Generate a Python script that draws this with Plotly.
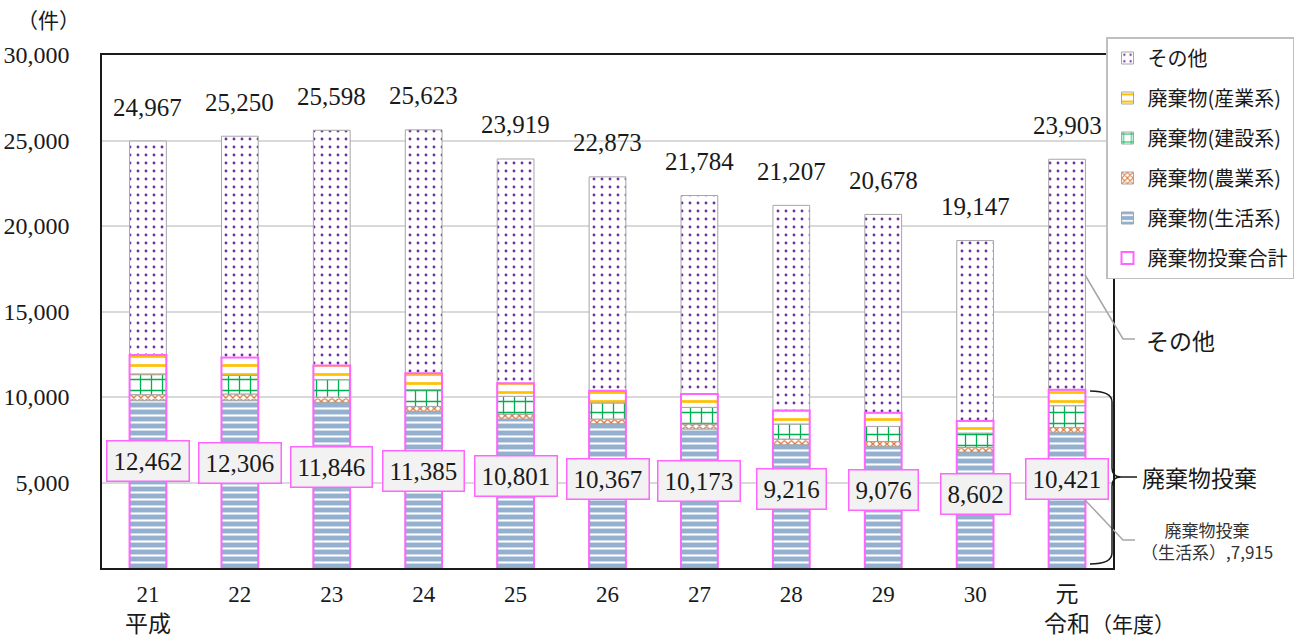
import numpy as np
import plotly.graph_objects as go

# ---------------- data ----------------
categories = ["21", "22", "23", "24", "25", "26", "27", "28", "29", "30", "元"]
era_labels = ["平成", "", "", "", "", "", "", "", "", "", "令和"]

household = [9786, 9786, 9690, 9160, 8710, 8440, 8130, 7210, 7110, 6780, 7915]      # 廃棄物(生活系)
agricultural = [350, 390, 310, 290, 296, 270, 290, 330, 290, 270, 305]              # 廃棄物(農業系)
construction = [1170, 1090, 1017, 980, 1034, 940, 975, 880, 880, 840, 1270]         # 廃棄物(建設系)
industrial = [1156, 1040, 829, 955, 761, 717, 778, 796, 796, 712, 931]              # 廃棄物(産業系)
other = [12505, 12944, 13752, 14238, 13118, 12506, 11611, 11991, 11602, 10545, 13482]  # その他
dumping_total = [12462, 12306, 11846, 11385, 10801, 10367, 10173, 9216, 9076, 8602, 10421]  # 廃棄物投棄合計
grand_total = [24967, 25250, 25598, 25623, 23919, 22873, 21784, 21207, 20678, 19147, 23903]

y_tickvals = [5000, 10000, 15000, 20000, 25000, 30000]
y_ticktext = ["5,000", "10,000", "15,000", "20,000", "25,000", "30,000"]

# ---------------- styling ----------------
W, H = 1298, 638
ML, MR, MT, MB = 102, 185, 55, 70
PW, PH = W - ML - MR, H - MT - MB

NUM_FONT = "Liberation Serif, Noto Sans CJK JP, serif"
JP_FONT = "Noto Sans CJK JP, sans-serif"
TXT = "#1a1a1a"
PINK = "#FF66FF"
SEG_LINE = dict(color="#A6A6A6", width=1)
BAR_W = 0.4
xpos = list(range(len(categories)))


def px_x(p):
    return (p - ML) / PW


def px_y(p):
    return (H - MB - p) / PH


series = [
    ("廃棄物(生活系)", household, dict(shape="-", fgcolor="#FFFFFF", bgcolor="#93B0CF", size=7, solidity=0.3), 5),
    ("廃棄物(農業系)", agricultural, dict(shape="x", fgcolor="#D9773A", bgcolor="#FFFFFF", size=5, solidity=0.45), 4),
    ("廃棄物(建設系)", construction, dict(shape="+", fgcolor="#00B050", bgcolor="#FFFFFF", size=11, solidity=0.22), 3),
    ("廃棄物(産業系)", industrial, dict(shape="-", fgcolor="#FFC000", bgcolor="#FFFFFF", size=9, solidity=0.3), 2),
    ("その他", other, dict(shape=".", fgcolor="#7030A0", bgcolor="#FFFFFF", size=8, solidity=0.1), 1),
]

fig = go.Figure()
base = np.zeros(len(categories))
for name, vals, pat, rank in series:
    fig.add_trace(go.Bar(
        x=xpos, y=vals, base=base.copy(), name=name, width=BAR_W,
        marker=dict(color=pat["bgcolor"], line=SEG_LINE,
                    pattern=dict(fillmode="replace", **pat)),
        legendrank=rank, legendgroup=name,
    ))
    base = base + np.array(vals)

fig.add_trace(go.Bar(
    x=xpos, y=dumping_total, base=[0] * len(categories), name="廃棄物投棄合計", width=BAR_W,
    marker=dict(color="rgba(0,0,0,0)", line=dict(color=PINK, width=2)),
    legendrank=6, legendgroup="total",
))

annotations = []
# grand total labels above bars
for xi, t in zip(xpos, grand_total):
    annotations.append(dict(x=xi, y=t, xref="x", yref="y", text=f"{t:,}", showarrow=False,
                            xanchor="center", yanchor="middle",
                            yshift=34, font=dict(family=NUM_FONT, size=25, color=TXT)))
# dumping total boxed labels at mid-height
for xi, t in zip(xpos, dumping_total):
    annotations.append(dict(x=xi, y=t / 2, xref="x", yref="y", text=f"{t:,}", showarrow=False,
                            xanchor="center", yanchor="middle",
                            bgcolor="#F2F2F2", bordercolor=PINK, borderwidth=1.5, borderpad=6,
                            font=dict(family=NUM_FONT, size=25, color=TXT)))


def label(px, py, text, size, color=TXT, family=JP_FONT):
    return dict(x=px_x(px), y=px_y(py), xref="paper", yref="paper", text=text,
                xanchor="center", yanchor="middle", showarrow=False,
                font=dict(family=family, size=size, color=color))


# unit and axis titles
annotations.append(label(48, 19, "（件）", 21))
annotations.append(label(1133, 623, "（年度）", 21))
# callouts
annotations.append(label(1180, 340, "その他", 23))
annotations.append(label(1199, 477, "廃棄物投棄", 23))
annotations.append(label(1207, 540, f"廃棄物投棄<br>（生活系）,{household[-1]:,}", 17, color="#333333"))

shapes = []
# その他 leader
shapes.append(dict(type="path", xref="paper", yref="paper",
                   path=f"M {px_x(1085)},{px_y(275)} L {px_x(1123)},{px_y(339)} L {px_x(1135)},{px_y(339)}",
                   line=dict(color="#A6A6A6", width=1.5)))
# 生活系 leader
shapes.append(dict(type="path", xref="paper", yref="paper",
                   path=f"M {px_x(1085)},{px_y(500)} L {px_x(1123)},{px_y(540)} L {px_x(1135)},{px_y(540)}",
                   line=dict(color="#A6A6A6", width=1.5)))
# brace
bp = (f"M {px_x(1090)},{px_y(391)} Q {px_x(1112)},{px_y(391)} {px_x(1112)},{px_y(402)} "
      f"L {px_x(1112)},{px_y(468)} Q {px_x(1112)},{px_y(477)} {px_x(1121)},{px_y(477)} "
      f"Q {px_x(1112)},{px_y(477)} {px_x(1112)},{px_y(486)} "
      f"L {px_x(1112)},{px_y(553)} Q {px_x(1112)},{px_y(564)} {px_x(1090)},{px_y(564)}")
shapes.append(dict(type="path", xref="paper", yref="paper", path=bp, line=dict(color=TXT, width=1.5)))
shapes.append(dict(type="path", xref="paper", yref="paper",
                   path=f"M {px_x(1121)},{px_y(477)} L {px_x(1137)},{px_y(477)}",
                   line=dict(color=TXT, width=1.5)))

tick_text = [f"{c}<br>{e}" if e else c for c, e in zip(categories, era_labels)]

fig.update_layout(
    width=W, height=H,
    margin=dict(l=ML, r=MR, t=MT, b=MB, pad=0, autoexpand=False),
    barmode="overlay",
    paper_bgcolor="white", plot_bgcolor="white",
    showlegend=True,
    legend=dict(x=px_x(1294), xanchor="right", y=px_y(37), yanchor="top",
                bordercolor="#BFBFBF", borderwidth=1.5, bgcolor="white",
                font=dict(family=JP_FONT, size=20, color=TXT),
                tracegroupgap=11, itemwidth=30),
    xaxis=dict(range=[-0.5, len(categories) - 0.5], tickmode="array", tickvals=xpos, ticktext=tick_text,
               showline=True, linecolor=TXT, linewidth=1.5, mirror=True, automargin=False,
               ticks="", showgrid=False, zeroline=False, ticklabelstandoff=5, tickangle=0,
               tickfont=dict(family=NUM_FONT, size=23, color=TXT)),
    yaxis=dict(range=[0, 30000], tickmode="array", tickvals=y_tickvals, ticktext=y_ticktext,
               showline=True, linecolor=TXT, linewidth=1.5, mirror=True, automargin=False,
               showgrid=True, gridcolor="#D9D9D9", gridwidth=1.5, zeroline=False,
               ticks="", ticklabelstandoff=26,
               tickfont=dict(family=NUM_FONT, size=24, color=TXT)),
    annotations=annotations,
    shapes=shapes,
)

fig.write_html("out.html", config={"displayModeBar": False},
               post_script="document.body.style.margin='0';document.body.style.padding='0';"
                           "document.body.style.overflow='hidden';")
